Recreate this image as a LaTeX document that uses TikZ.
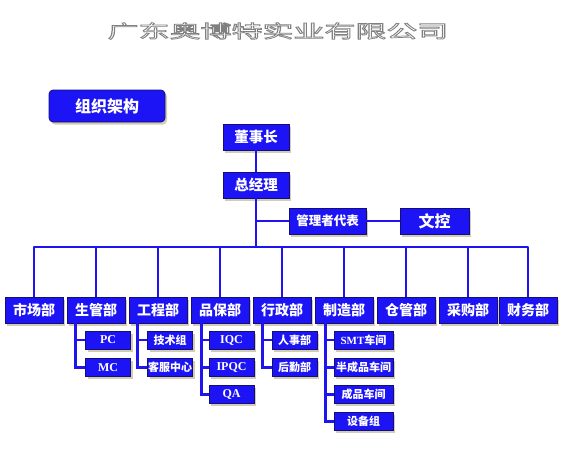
\documentclass[tikz,border=0pt]{standalone}
\usepackage{fontspec}
\setmainfont{Liberation Serif}
\newfontfamily\cjk{Noto Sans CJK SC}
\usetikzlibrary{shadows}
\definecolor{boxblue}{RGB}{28,20,245}
\definecolor{boxedge}{RGB}{20,15,120}
\definecolor{lineblue}{RGB}{30,20,240}
\definecolor{shadowc}{RGB}{205,200,170}
\newcommand{\outlinetxt}[1]{%
  \textcolor{white}{\special{pdf:code q 2 Tr 0.7 w 0.5 0.5 0.5 RG}#1\special{pdf:code Q}}}
\tikzset{
  base/.style={draw=boxedge, line width=0.7pt, fill=boxblue, text=white,
    inner sep=0pt, align=center,
    drop shadow={shadow xshift=2pt, shadow yshift=-2.5pt, fill=shadowc, opacity=0.9}},
  topbox/.style={base, minimum width=66pt, minimum height=26pt, font=\cjk\bfseries\fontsize{14.5}{15}\selectfont},
  dept/.style={base, minimum width=58pt, minimum height=26pt, font=\cjk\bfseries\fontsize{14}{15}\selectfont},
  sub/.style={base, minimum width=45pt, minimum height=18pt, font=\cjk\bfseries\fontsize{11}{12}\selectfont},
  subl/.style={base, minimum width=45pt, minimum height=18pt, font=\bfseries\fontsize{12}{13}\selectfont},
  conn/.style={draw=lineblue, line width=2.6pt},
}
\begin{document}
\begin{tikzpicture}[x=1pt,y=-1pt]
\useasboundingbox (0,0) rectangle (562,456);
% title
\node[font=\cjk\fontsize{18}{18}\selectfont, xscale=1.72, inner sep=0pt] (title) at (278,31) {\outlinetxt{广东奥博特实业有限公司}};
% label
\node[base, rounded corners=4pt, minimum width=116pt, minimum height=32pt, font=\cjk\bfseries\fontsize{16}{17}\selectfont] (org) at (107,106) {组织架构};
% top
\node[topbox] (chair) at (256,137) {董事长};
\node[topbox] (gm) at (256,185) {总经理};
\node[topbox, minimum width=77pt, font=\cjk\bfseries\fontsize{12.5}{13}\selectfont] (rep) at (327.5,221) {管理者代表};
\node[topbox, minimum width=69pt, font=\cjk\bfseries\fontsize{16}{17}\selectfont] (wk) at (434.5,221) {文控};
% departments
\node[dept] (d1) at (34,310) {市场部};
\node[dept] (d2) at (96,310) {生管部};
\node[dept] (d3) at (158,310) {工程部};
\node[dept] (d4) at (220,310) {品保部};
\node[dept] (d5) at (282,310) {行政部};
\node[dept] (d6) at (344,310) {制造部};
\node[dept] (d7) at (406,310) {仓管部};
\node[dept] (d8) at (468,310) {采购部};
\node[dept] (d9) at (528,310) {财务部};
% subs
\node[subl] (pc) at (108,340) {PC};
\node[subl] (mc) at (108,367.5) {MC};
\node[sub] (js) at (170,340) {技术组};
\node[sub] (kf) at (170,367.5) {客服中心};
\node[subl] (iqc) at (231.5,340) {IQC};
\node[subl] (ipqc) at (231.5,367.5) {IPQC};
\node[subl] (qa) at (231.5,394.5) {QA};
\node[sub] (rs) at (294.5,340) {人事部};
\node[sub] (hq) at (294.5,367.5) {后勤部};
\node[sub, minimum width=59pt] (smt) at (363.5,340) {\fontspec{Liberation Serif}SMT\cjk 车间};
\node[sub, minimum width=59pt] (bcp) at (363.5,367.5) {半成品车间};
\node[sub, minimum width=59pt] (cp) at (363.5,394.5) {成品车间};
\node[sub, minimum width=59pt] (sb) at (363.5,421.5) {设备组};
\coordinate (bus) at (0,247);
% connectors
\draw[conn] (chair.south) -- (gm.north);
\draw[conn] (gm.south) -- (gm.south |- bus);
\draw[conn] (gm.south |- rep.west) -- (rep.west);
\draw[conn] (rep.east) -- (wk.west);
\draw[conn, line join=round] (d1.north) -- (d1.north |- bus) -- (d9.north |- bus) -- (d9.north);
\foreach \d in {d2,d3,d4,d5,d6,d7,d8}{
  \draw[conn] (\d.north |- bus) -- (\d.north);
}
\draw[conn] ([xshift=9pt]d2.south west) |- (pc.west);
\draw[conn] ([xshift=9pt]d2.south west) |- (mc.west);
\draw[conn] ([xshift=9pt]d3.south west) |- (js.west);
\draw[conn] ([xshift=9pt]d3.south west) |- (kf.west);
\draw[conn] ([xshift=11pt]d4.south west) |- (iqc.west);
\draw[conn] ([xshift=11pt]d4.south west) |- (ipqc.west);
\draw[conn] ([xshift=11pt]d4.south west) |- (qa.west);
\draw[conn] ([xshift=10pt]d5.south west) |- (rs.west);
\draw[conn] ([xshift=10pt]d5.south west) |- (hq.west);
\draw[conn] ([xshift=11pt]d6.south west) |- (smt.west);
\draw[conn] ([xshift=11pt]d6.south west) |- (bcp.west);
\draw[conn] ([xshift=11pt]d6.south west) |- (cp.west);
\draw[conn] ([xshift=11pt]d6.south west) |- (sb.west);
\end{tikzpicture}
\end{document}
